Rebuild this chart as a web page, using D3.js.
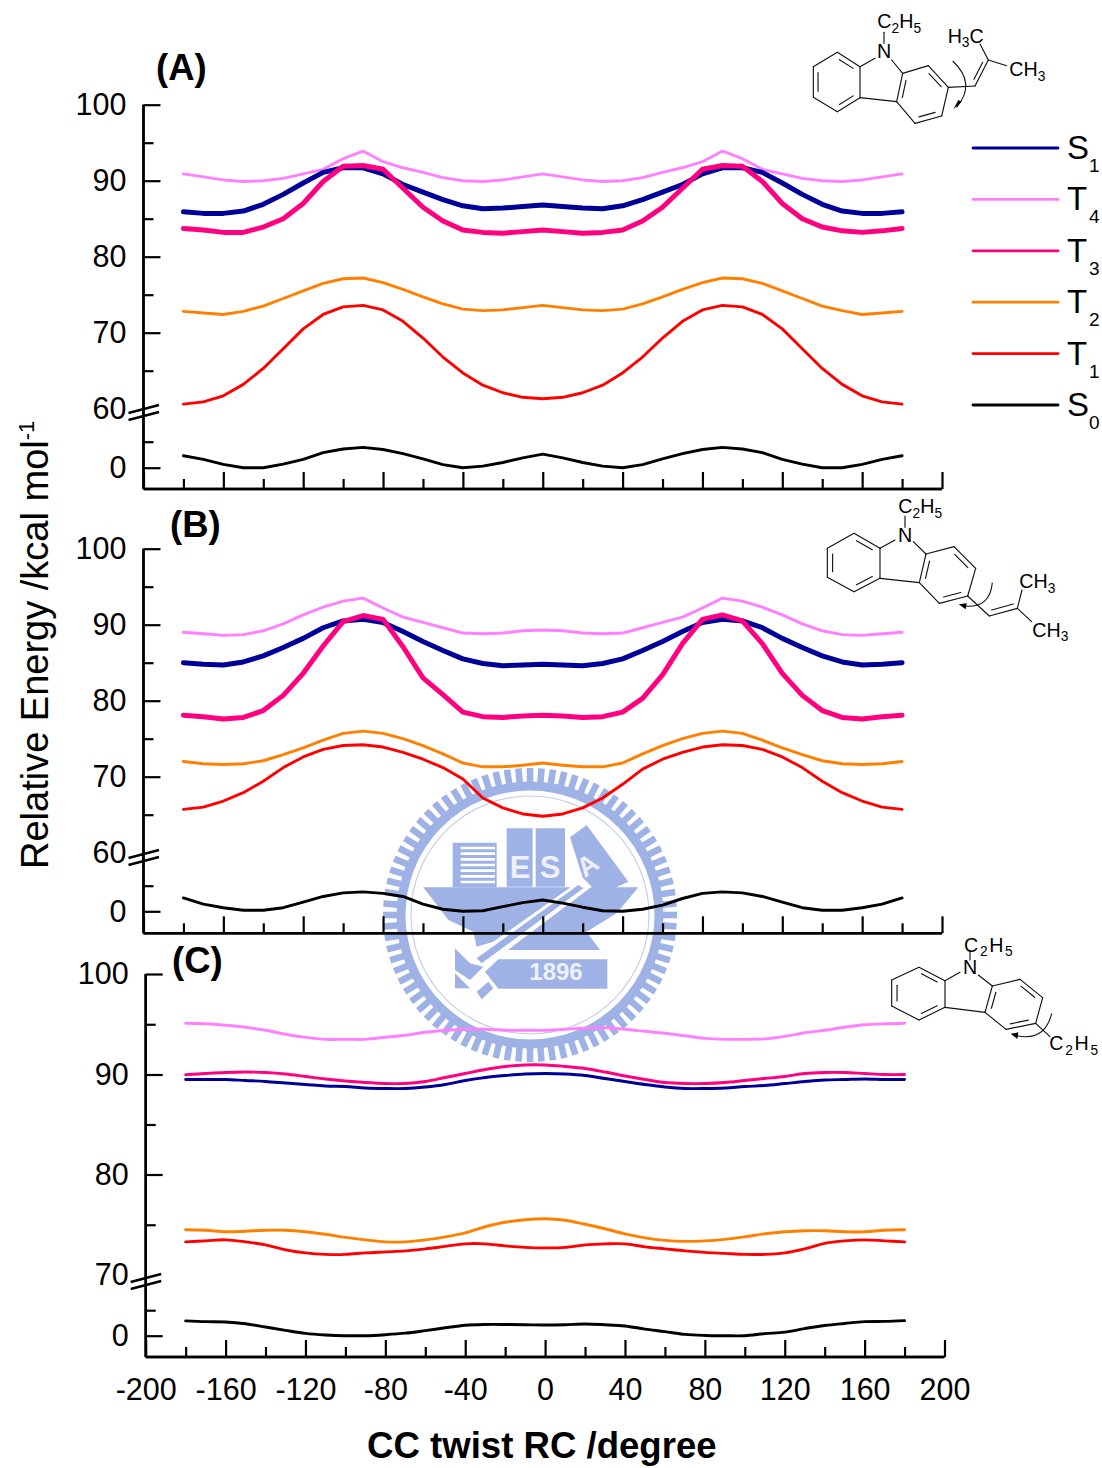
<!DOCTYPE html>
<html><head><meta charset="utf-8">
<script src="https://cdnjs.cloudflare.com/ajax/libs/d3/7.8.5/d3.min.js"></script>
<style>
html,body{margin:0;padding:0;background:#fff}
svg{display:block}
text{font-family:"Liberation Sans",Arial,sans-serif;fill:#000}
</style></head><body><svg id="c" width="1102" height="1468" viewBox="0 0 1102 1468"></svg>
<script>
const angles = [-180,-170,-160,-150,-140,-130,-120,-110,-100,-90,-80,-70,-60,-50,-40,-30,-20,-10,0,10,20,30,40,50,60,70,80,90,100,110,120,130,140,150,160,170,180];
const xMajor = [-200,-160,-120,-80,-40,0,40,80,120,160,200];
const xMinor = [-180,-140,-100,-60,-20,20,60,100,140,180];
const seriesNames = ["S1","T4","T3","T2","T1","S0"];
const seriesColors = {S1:"#000099",T4:"#ff80ff",T3:"#ff0080",T2:"#ff8000",T1:"#ff0000",S0:"#000000"};

const aS1 = [85.9,85.7,85.7,86.0,86.9,88.2,89.7,91.1,91.7,91.7,90.9,89.5,88.5,87.5,86.7,86.3,86.4,86.6,86.8,86.6,86.4,86.3,86.7,87.5,88.5,89.5,90.9,91.7,91.7,91.1,89.7,88.2,86.9,86.0,85.7,85.7,85.9];
const aT4 = [90.9,90.5,90.1,89.9,90.0,90.3,90.9,91.5,92.9,93.9,92.5,91.7,91.1,90.4,90.0,89.9,90.1,90.5,90.9,90.5,90.1,89.9,90.0,90.4,91.1,91.7,92.5,93.9,92.9,91.5,90.9,90.3,90.0,89.9,90.1,90.5,90.9];
const aT3 = [83.7,83.5,83.2,83.2,83.9,85.0,87.0,89.9,91.9,92.0,91.5,89.0,86.5,84.7,83.5,83.2,83.1,83.3,83.5,83.3,83.1,83.2,83.5,84.7,86.5,89.0,91.5,92.0,91.9,89.9,87.0,85.0,83.9,83.4,83.2,83.4,83.7];
const aT2 = [72.8,72.6,72.4,72.8,73.5,74.5,75.5,76.5,77.1,77.2,76.6,75.7,74.7,73.8,73.1,72.9,73.0,73.3,73.6,73.3,73.0,72.9,73.1,73.8,74.7,75.7,76.6,77.2,77.1,76.5,75.5,74.5,73.5,72.9,72.4,72.6,72.8];
const aT1 = [60.6,60.9,61.7,63.2,65.3,67.9,70.5,72.4,73.4,73.6,73.0,71.5,69.3,66.8,64.7,63.1,62.1,61.5,61.3,61.5,62.1,63.1,64.7,66.8,69.3,71.5,73.0,73.6,73.4,72.4,70.5,67.9,65.3,63.2,61.7,60.9,60.6];
const aS0 = [2.3,1.6,0.65,0.0,0.0,0.7,1.6,2.9,3.6,3.9,3.5,2.7,1.7,0.6,0.0,0.3,1.0,1.9,2.6,1.9,1.0,0.3,0.0,0.6,1.7,2.7,3.5,3.9,3.6,2.9,1.6,0.7,0.0,0.0,0.65,1.6,2.3];

const bS1 = [85.0,84.8,84.7,85.1,85.9,87.0,88.2,89.6,90.5,90.7,90.3,89.1,87.8,86.6,85.5,84.9,84.6,84.7,84.8,84.7,84.6,84.9,85.5,86.6,87.8,89.1,90.3,90.7,90.5,89.6,88.2,87.0,85.9,85.1,84.7,84.8,85.0];
const bT4 = [89.0,88.8,88.6,88.7,89.2,90.1,91.3,92.3,93.1,93.5,92.2,91.0,90.3,89.6,88.9,88.8,88.9,89.2,89.3,89.2,88.9,88.8,88.9,89.6,90.3,91.0,92.2,93.5,93.1,92.3,91.3,90.1,89.2,88.7,88.6,88.8,89.0];
const bT3 = [78.1,77.9,77.6,77.8,78.7,80.7,83.6,87.2,90.4,91.2,90.7,87.1,83.0,80.8,78.5,77.9,77.8,78.0,78.1,78.0,77.8,77.9,78.5,80.3,83.4,87.5,90.7,91.3,90.5,87.5,83.6,80.7,78.7,77.8,77.6,77.9,78.1];
const bT2 = [72.0,71.7,71.6,71.7,72.1,72.9,73.8,74.8,75.7,76.0,75.7,75.0,74.1,73.0,71.8,71.3,71.3,71.5,71.8,71.5,71.3,71.3,71.8,73.0,74.1,75.0,75.7,76.0,75.7,74.8,73.8,72.9,72.1,71.7,71.6,71.7,72.0];
const bT1 = [65.7,66.0,66.8,67.9,69.4,71.2,72.6,73.6,74.1,74.2,73.9,73.2,72.3,71.2,69.7,67.2,65.9,65.1,64.8,65.1,65.9,67.2,69.0,71.0,72.3,73.2,73.9,74.2,74.1,73.6,72.6,71.2,69.4,67.9,66.8,66.0,65.7];
const bS0 = [2.6,1.4,0.7,0.2,0.2,0.7,1.8,2.9,3.6,3.8,3.5,2.9,1.4,0.4,0.0,0.1,0.9,1.7,2.2,1.6,0.8,0.1,0.0,0.4,1.2,2.5,3.5,3.8,3.6,2.9,1.8,0.7,0.2,0.2,0.7,1.4,2.6];

const cS1 = [89.5,89.5,89.5,89.4,89.3,89.15,89.0,88.85,88.8,88.65,88.6,88.6,88.75,89.0,89.4,89.7,89.9,90.05,90.1,90.05,89.9,89.6,89.3,89.0,88.75,88.6,88.6,88.65,88.8,88.9,89.1,89.3,89.45,89.5,89.55,89.5,89.5];
const cT4 = [95.1,95.05,94.9,94.7,94.4,94.0,93.7,93.5,93.5,93.5,93.7,93.9,94.2,94.4,94.5,94.5,94.4,94.4,94.4,94.5,94.6,94.65,94.5,94.3,94.1,93.85,93.6,93.5,93.5,93.55,93.8,94.15,94.4,94.7,94.95,95.05,95.1];
const cT3 = [89.98,90.1,90.2,90.25,90.2,90.05,89.8,89.55,89.35,89.2,89.1,89.1,89.3,89.7,90.1,90.5,90.8,90.95,90.95,90.8,90.6,90.25,89.85,89.5,89.2,89.1,89.1,89.2,89.4,89.6,89.8,90.1,90.2,90.2,90.1,90.0,90.0];
const cT2 = [74.5,74.45,74.3,74.35,74.45,74.45,74.3,74.05,73.75,73.5,73.3,73.3,73.5,73.8,74.2,74.8,75.25,75.5,75.6,75.45,75.05,74.6,74.1,73.7,73.45,73.35,73.4,73.55,73.8,74.1,74.3,74.4,74.4,74.3,74.3,74.45,74.5];
const cT1 = [73.3,73.4,73.5,73.3,73.0,72.5,72.2,72.05,72.05,72.2,72.3,72.4,72.6,72.85,73.1,73.1,72.9,72.75,72.7,72.75,73.0,73.1,73.1,72.8,72.6,72.4,72.25,72.15,72.05,72.05,72.2,72.6,73.15,73.4,73.5,73.4,73.3];
const cS0 = [2.9,2.75,2.7,2.35,1.7,1.05,0.45,0.15,0.0,0.0,0.2,0.5,1.0,1.55,2.05,2.2,2.2,2.15,2.1,2.15,2.3,2.15,1.9,1.3,0.8,0.25,0.05,0.0,0.0,0.4,0.7,1.4,2.0,2.4,2.75,2.8,2.95];

const legendLabels = [["S","1"],["T","4"],["T","3"],["T","2"],["T","1"],["S","0"]];
const panels = [
 {label:"(A)", lx:156, ly:80, x0:143.5, x1:942, yd:[-4.1,0,5,60,70,80,90,100], yr:[489,467.7,441.7,408.7,332.7,256.7,180.7,104.7], major:[0,60,70,80,90,100], minor:[5,65,75,85,95], brk:411, hidden:60, thick:true,
  data:{S1:aS1,T4:aT4,T3:aT3,T2:aT2,T1:aT1,S0:aS0}},
 {label:"(B)", lx:170, ly:537, x0:143.5, x1:942, yd:[-4.3,0,5,60,70,80,90,100], yr:[933.3,911.3,885.7,852.7,776.7,700.7,624.7,548.7], major:[0,60,70,80,90,100], minor:[5,65,75,85,95], brk:856, hidden:60, thick:true,
  data:{S1:bS1,T4:bT4,T3:bT3,T2:bT2,T1:bT1,S0:bS0}},
 {label:"(C)", lx:172, ly:973, x0:145.7, x1:944.5, yd:[-4.2,0,5,70,80,90,100], yr:[1357,1335.7,1310.2,1275,1174.5,1074.5,974], major:[0,70,80,90,100], minor:[5,75,85,95], brk:1280, hidden:70, thick:false, labels:true,
  data:{S1:cS1,T4:cT4,T3:cT3,T2:cT2,T1:cT1,S0:cS0}}
];
const hyphenFormat = d => String(d);

const svg = d3.select("#c");
svg.append("rect").attr("width",1102).attr("height",1468).attr("fill","#fff");

/* ---------- watermark seal (zoom-frame coordinates) ---------- */
function seal(){
  const col="#9fb2e6", g=svg.append("g").attr("class","seal");
  const cx=530, cy=915;
  g.append("circle").attr("cx",cx).attr("cy",cy).attr("r",129).attr("fill","none").attr("stroke",col).attr("stroke-width",9);
  d3.range(80).forEach(i=>{
    const a=i/80*360;
    g.append("rect").attr("x",cx-3.3).attr("y",cy-147).attr("width",6.6).attr("height",18)
      .attr("fill",col).attr("transform",`rotate(${a} ${cx} ${cy})`);
  });
  g.append("circle").attr("cx",cx).attr("cy",cy).attr("r",119).attr("fill","none").attr("stroke","#c5cfe8").attr("stroke-width",1.2);
  const P=pts=>pts.map(p=>[370+p[0]/3,750+p[1]/3].join(",")).join(" ");
  const poly=(pts,f)=>g.append("polygon").attr("points",P(pts)).attr("fill",f||col);
  poly([[600,262],[650,225],[775,395],[720,420],[650,420]]);
  poly([[160,412],[805,412],[740,490],[650,545],[690,600],[415,600],[470,545],[320,590],[310,545],[235,510]]);
  poly([[248,278],[380,278],[380,412],[248,412]]);
  for(let y=290;y<400;y+=17) poly([[272,y],[375,y],[375,y+8],[272,y+8]],"#fff");
  poly([[410,235],[488,235],[488,410],[410,410]]);
  poly([[497,235],[585,235],[585,410],[497,410]]);
  poly([[640,385],[665,410],[340,655],[300,625]],"#fff");
  poly([[625,405],[640,415],[335,640],[320,625]],col);
  poly([[255,595],[300,640],[340,650],[300,690],[255,660]]);
  poly([[255,670],[300,715],[255,715]]);
  poly([[320,725],[355,695],[370,715],[335,748]]);
  poly([[385,628],[712,628],[712,716],[385,716],[345,665]]);
  const t=(s,x,y,fs,tr)=>g.append("text").text(s).attr("x",370+x/3).attr("y",750+y/3).attr("font-size",fs)
     .attr("text-anchor","middle").style("fill","#eef1fb").style("font-weight","bold").attr("transform",tr||null);
  t("E",450,384,31); t("S",540,384,31);
  t("A",668,368,27,`rotate(-35 ${370+668/3} ${750+368/3})`);
  t("1896",558,690,24);
}
seal();

/* ---------- panels ---------- */
panels.forEach(p=>{
  const g=svg.append("g");
  const x=d3.scaleLinear().domain([-200,200]).range([p.x0,p.x1]);
  const y=d3.scaleLinear().domain(p.yd).range(p.yr);
  const line=d3.line().x((d,i)=>x(angles[i])).y(d=>y(d));
  if(!p.thick) line.curve(d3.curveCatmullRom.alpha(0.5));
  ["S0","T1","T2","T4","S1","T3"].forEach(n=>{
    const thick=p.thick&&(n==="S1"||n==="T3");
    g.append("path").datum(p.data[n]).attr("d",line).attr("fill","none")
      .attr("stroke",seriesColors[n]).attr("stroke-width",thick?5:2.9)
      .attr("stroke-linejoin","round").attr("stroke-linecap","round");
  });
  const yAxis=d3.axisLeft(y).tickValues(p.major).tickSize(-17).tickPadding(17).tickFormat(hyphenFormat);
  const ya=g.append("g").attr("transform",`translate(${p.x0},0)`).call(yAxis);
  const yAxisM=d3.axisLeft(y).tickValues(p.minor).tickSize(-10).tickFormat("");
  const ym=g.append("g").attr("transform",`translate(${p.x0},0)`).call(yAxisM);
  ya.selectAll(".tick").filter(d=>d===p.hidden).select("line").remove();
  const xAxis=d3.axisBottom(x).tickValues(xMajor).tickSize(-17).tickPadding(21).tickFormat(p.labels?hyphenFormat:"");
  const xa=g.append("g").attr("transform",`translate(0,${p.yr[0]})`).call(xAxis);
  const xm=g.append("g").attr("transform",`translate(0,${p.yr[0]})`).call(d3.axisBottom(x).tickValues(xMinor).tickSize(-10).tickFormat(""));
  [ya,ym,xa,xm].forEach(s=>{
    s.attr("font-size",null).attr("font-family",null);
    s.selectAll("path.domain").attr("stroke","#000").attr("stroke-width",2.4).attr("fill","none")
      .attr("d",s===ya||s===ym?`M0,${p.yr[0]}V${p.yr[p.yr.length-1]}`:`M${p.x0},0H${p.x1}`);
    s.selectAll("line").attr("stroke","#000").attr("stroke-width",2.2);
    s.selectAll("text").attr("font-size",30.5).style("fill","#000");
  });
  [0,7].forEach(d=>{
    g.append("path").attr("d",`M${p.x0-15},${p.brk+2+d}L${p.x0+15.5},${p.brk-6+d}`)
     .attr("stroke","#000").attr("stroke-width",2.4).attr("fill","none");
  });
  g.append("text").text(p.label).attr("x",p.lx).attr("y",p.ly).attr("font-size",36.5).style("font-weight","bold");
});

/* ---------- titles ---------- */
const yt=svg.append("text").attr("transform","translate(48,869) rotate(-90)").attr("font-size",38);
yt.append("tspan").text("Relative Energy /kcal mol");
yt.append("tspan").text("-1").attr("font-size",22).attr("dy",-14);
svg.append("text").text("CC twist RC /degree").attr("x",367).attr("y",1458).attr("font-size",36.6).style("font-weight","bold");

/* ---------- legend ---------- */
const legY=d3.scalePoint().domain(seriesNames).range([148,405]);
seriesNames.forEach((n,i)=>{
  svg.append("line").attr("x1",973).attr("x2",1058).attr("y1",legY(n)).attr("y2",legY(n))
    .attr("stroke",seriesColors[n]).attr("stroke-width",2.8).attr("stroke-linecap","round");
  svg.append("text").text(legendLabels[i][0]).attr("x",1067).attr("y",legY(n)+11).attr("font-size",33);
  svg.append("text").text(legendLabels[i][1]).attr("x",1089).attr("y",legY(n)+24).attr("font-size",19);
});

/* ---------- molecules ---------- */
function molecule(o){
  const g=svg.append("g").attr("transform",`translate(${o.ox},${o.oy}) scale(${1/3})`);
  const r=o.r;
  const seg=(a,b)=>g.append("line").attr("x1",a[0]).attr("y1",a[1]).attr("x2",b[0]).attr("y2",b[1])
     .attr("stroke","#111").attr("stroke-width",3.4).attr("stroke-linecap","round");
  const ring=(pts,dbl)=>{
    const c=[d3.mean(pts,d=>d[0]),d3.mean(pts,d=>d[1])];
    pts.forEach((q,i)=>seg(q,pts[(i+1)%6]));
    dbl.forEach(i=>{
      const a=pts[i],b=pts[(i+1)%6],k=0.2;
      const A=[a[0]+(c[0]-a[0])*k,a[1]+(c[1]-a[1])*k],B=[b[0]+(c[0]-b[0])*k,b[1]+(c[1]-b[1])*k];
      const m=0.12;
      seg([A[0]+(B[0]-A[0])*m,A[1]+(B[1]-A[1])*m],[B[0]-(B[0]-A[0])*m,B[1]-(B[1]-A[1])*m]);
    });
  };
  ring([r.a,r.b,r.c,r.d,r.e,r.f],[1,3,5]);
  ring([r.g,r.i,r.j,r.k,r.l,r.h],[1,3,5]);
  o.bonds.forEach(b=>seg(b[0],b[1]));
  g.append("path").attr("d",o.arc).attr("fill","none").attr("stroke","#111").attr("stroke-width",3.2);
  g.append("polygon").attr("points",o.head).attr("fill","#000");
  o.texts.forEach(t=>{
    const fs=t.fs||59;
    const e=g.append("text").attr("x",t.x).attr("y",t.y).attr("font-size",fs).attr("text-anchor",t.anchor||"start");
    if(t.ls) e.attr("letter-spacing",t.ls);
    t.parts.forEach(q=>{
      const s=e.append("tspan").text(q[0]);
      if(q[1]==="sub") s.attr("font-size",fs*0.7).attr("dy",14);
      if(q[1]==="up") s.attr("dy",-14);
    });
  });
}
molecule({ox:780,oy:0,
 r:{a:[100,200],b:[172,157],c:[240,200],d:[240,293],e:[172,335],f:[100,292],g:[368,220],i:[445,197],j:[505,262],k:[485,348],l:[405,370],h:[350,305]},
 bonds:[[[240,200],[285,175]],[[335,180],[368,220]],[[240,293],[350,305]],[[312,97],[312,130]],[[505,262],[585,258]],[[585,258],[625,180]],[[582,238],[608,187]],[[625,180],[600,132]],[[625,180],[680,197]]],
 arc:"M518,183Q590,250 530,322", head:"520,328 545,305 535,300",
 texts:[{x:292,y:85,parts:[["C"],["2","sub"],["H","up"],["5","sub"]]},{x:312,y:175,anchor:"middle",parts:[["N"]]},{x:503,y:128,parts:[["H"],["3","sub"],["C","up"]]},{x:688,y:228,parts:[["CH"],["3","sub"]]}]
});
molecule({ox:800,oy:490,
 r:{a:[82,175],b:[162,130],c:[240,175],d:[240,265],e:[162,305],f:[82,262],g:[378,192],i:[462,170],j:[527,235],k:[503,318],l:[418,340],h:[358,278]},
 bonds:[[[240,175],[285,150]],[[340,155],[378,192]],[[240,265],[358,278]],[[315,78],[315,112]],[[503,318],[568,378]],[[568,378],[652,355]],[[575,360],[640,342]],[[652,355],[666,300]],[[652,355],[695,395]]],
 arc:"M577,278Q570,355 495,348", head:"476,343 500,340 497,358",
 texts:[{x:295,y:70,parts:[["C"],["2","sub"],["H","up"],["5","sub"]]},{x:315,y:155,anchor:"middle",parts:[["N"]]},{x:658,y:295,parts:[["CH"],["3","sub"]]},{x:697,y:440,parts:[["CH"],["3","sub"]]}]
});
molecule({ox:870,oy:925,
 r:{a:[65,165],b:[147,127],c:[225,167],d:[225,247],e:[147,285],f:[65,243],g:[367,183],i:[450,163],j:[518,218],k:[497,295],l:[408,313],h:[345,262]},
 bonds:[[[225,167],[270,142]],[[325,150],[367,183]],[[225,247],[345,262]],[[300,75],[300,105]],[[497,295],[540,335]]],
 arc:"M545,265Q525,350 440,332", head:"422,326 445,322 442,342",
 texts:[{x:282,y:80,ls:5,parts:[["C"],["2","sub"],["H","up"],["5","sub"]]},{x:300,y:147,anchor:"middle",parts:[["N"]]},{x:538,y:375,ls:5,parts:[["C"],["2","sub"],["H","up"],["5","sub"]]}]
});
</script></body></html>
